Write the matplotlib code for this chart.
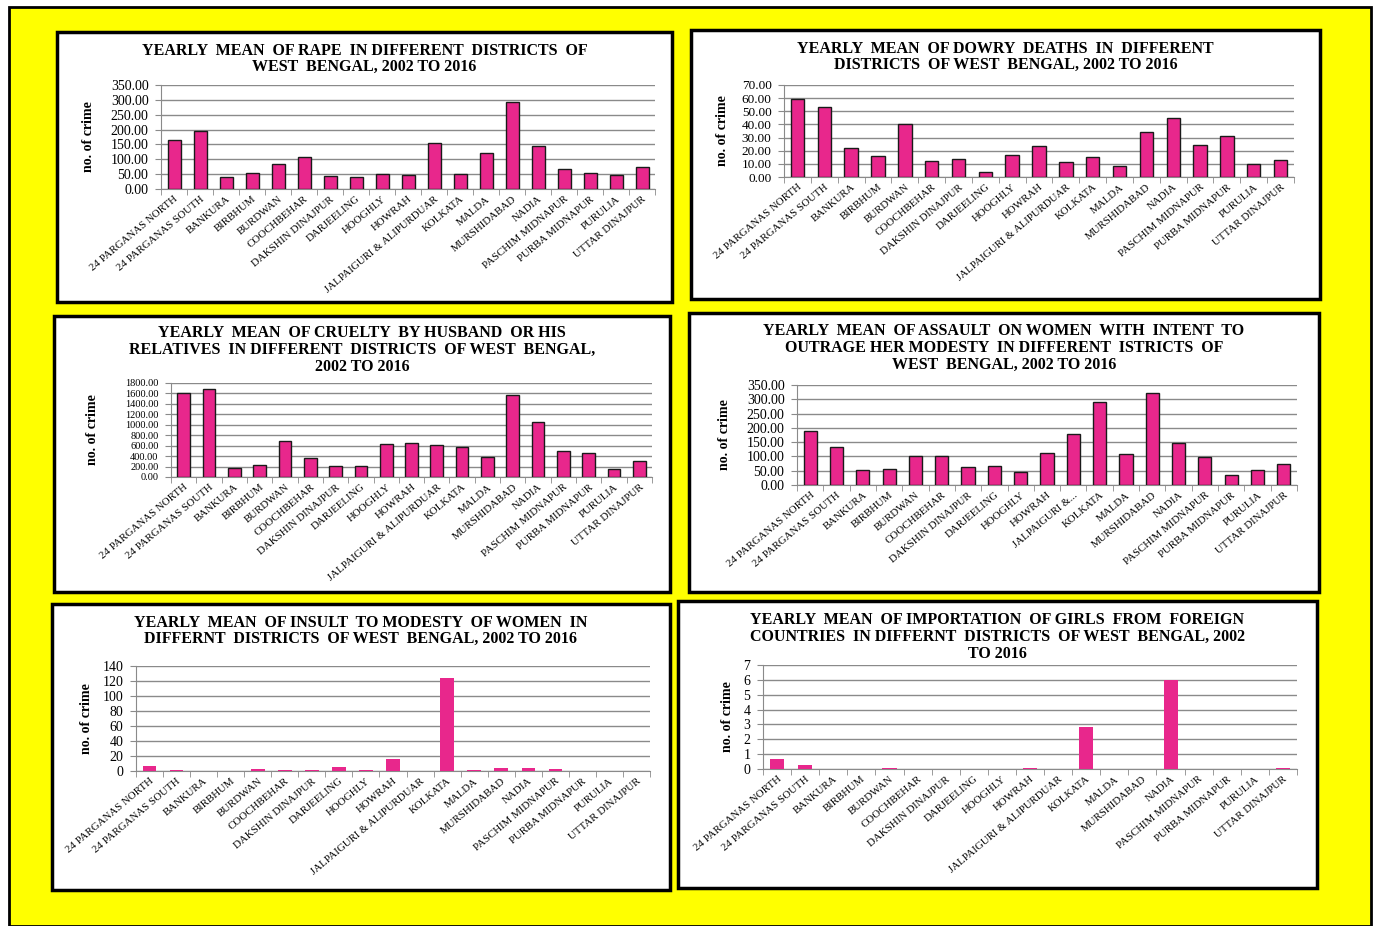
import numpy as np
import matplotlib.pyplot as plt
from matplotlib.patches import Rectangle

# Yearly mean of crimes against women, West Bengal districts, 2002-2016
districts = ['24 PARGANAS NORTH', '24 PARGANAS SOUTH', 'BANKURA', 'BIRBHUM', 'BURDWAN',
             'COOCHBEHAR', 'DAKSHIN DINAJPUR', 'DARJEELING', 'HOOGHLY', 'HOWRAH',
             'JALPAIGURI & ALIPURDUAR', 'KOLKATA', 'MALDA', 'MURSHIDABAD', 'NADIA',
             'PASCHIM MIDNAPUR', 'PURBA MIDNAPUR', 'PURULIA', 'UTTAR DINAJPUR']
districts_short = districts[:10] + ['JALPAIGURI &...'] + districts[11:]

rape = [164, 196, 41, 54, 85, 108, 45, 41, 50, 48, 154, 50, 121, 293, 145, 67, 54, 46, 75]
dowry = [59.0, 53.3, 22.0, 15.7, 40.7, 12.4, 13.9, 4.0, 16.7, 23.5, 11.4, 14.9, 8.1, 33.9,
         44.7, 24.3, 31.1, 9.9, 12.9]
cruelty = [1602, 1679, 166, 223, 683, 357, 204, 204, 626, 657, 613, 568, 389, 1577, 1053,
           491, 460, 147, 313]
assault = [190, 132, 54, 56, 102, 100, 63, 66, 47, 112, 177, 291, 109, 323, 146, 99, 34, 54, 75]
insult = [6.2, 1.3, 0.5, 0.5, 2.7, 1.5, 1.5, 5.3, 1.5, 16.4, 0.5, 124.4, 1.3, 3.5, 3.5, 2.7,
          0.5, 0.0, 0.5]
importation = [0.65, 0.25, 0, 0, 0.05, 0, 0, 0, 0, 0.05, 0, 2.82, 0, 0, 6.0, 0, 0, 0, 0.05]

W, H = 1375, 926
PINK = '#E8278C'
SERIF = 'Liberation Serif'


def fig_rect(x0, y0, x1, y1):
    # pixel box (top-left origin) -> figure fraction
    return [x0 / W, 1 - y1 / H, (x1 - x0) / W, (y1 - y0) / H]


fig = plt.figure(figsize=(W / 100, H / 100), dpi=100)
fig.patch.set_facecolor('white')

# yellow poster background
fig.add_artist(Rectangle((9 / W, 0), (1371 - 9) / W, 1 - 7 / H, transform=fig.transFigure,
                         facecolor='#FFFF00', edgecolor='black', lw=2, zorder=-5))

panels = [
    # values, labels, title, box, axes, ymax, step, fmt, edge, title_y, ylabel_x, ytick size
    (rape, districts, 'YEARLY  MEAN  OF RAPE  IN DIFFERENT  DISTRICTS  OF\nWEST  BENGAL, 2002 TO 2016',
     (57, 32, 672, 302), (161, 85, 655, 189), 350, 50, '%.2f', True, 59, 89, 10),
    (dowry, districts, 'YEARLY  MEAN  OF DOWRY  DEATHS  IN  DIFFERENT\nDISTRICTS  OF WEST  BENGAL, 2002 TO 2016',
     (691, 30, 1320, 299), (784, 85, 1294, 177), 70, 10, '%.2f', True, 57, 722, 9.5),
    (cruelty, districts, 'YEARLY  MEAN  OF CRUELTY  BY HUSBAND  OR HIS\nRELATIVES  IN DIFFERENT  DISTRICTS  OF WEST  BENGAL,\n2002 TO 2016',
     (54, 316, 670, 592), (171, 383, 652, 477), 1800, 200, '%.2f', True, 350, 92, 7.5),
    (assault, districts_short, 'YEARLY  MEAN  OF ASSAULT  ON WOMEN  WITH  INTENT  TO\nOUTRAGE HER MODESTY  IN DIFFERENT  ISTRICTS  OF\nWEST  BENGAL, 2002 TO 2016',
     (689, 313, 1319, 592), (797, 385, 1297, 485), 350, 50, '%.2f', True, 348, 725, 10),
    (insult, districts, 'YEARLY  MEAN  OF INSULT  TO MODESTY  OF WOMEN  IN\nDIFFERNT  DISTRICTS  OF WEST  BENGAL, 2002 TO 2016',
     (52, 604, 670, 890), (136, 666, 650, 771), 140, 20, '%d', False, 631, 86, 10),
    (importation, districts, 'YEARLY  MEAN  OF IMPORTATION  OF GIRLS  FROM  FOREIGN\nCOUNTRIES  IN DIFFERNT  DISTRICTS  OF WEST  BENGAL, 2002\nTO 2016',
     (678, 601, 1317, 888), (763, 665, 1297, 769), 7, 1, '%d', False, 637, 728, 10),
]

for vals, labels, title, box, axbox, ymax, step, fmt, edged, title_y, ylab_x, ysize in panels:
    bx0, by0, bx1, by1 = box
    fig.add_artist(Rectangle((bx0 / W, 1 - by1 / H), (bx1 - bx0) / W, (by1 - by0) / H,
                             transform=fig.transFigure, facecolor='white',
                             edgecolor='black', lw=2.5, zorder=-4))

    ax = fig.add_axes(fig_rect(*axbox))
    ax.set_facecolor('none')
    x = np.arange(len(vals))
    if edged:
        ax.bar(x, vals, width=0.5, color=PINK, edgecolor='#1a1a1a', linewidth=1, zorder=3)
    else:
        ax.bar(x, vals, width=0.5, color=PINK, linewidth=0, zorder=3)

    ax.set_xlim(-0.5, len(vals) - 0.5)
    ax.set_ylim(0, ymax)
    ax.set_yticks(np.arange(0, ymax + step / 2, step))
    ax.yaxis.set_major_formatter(plt.FormatStrFormatter(fmt))
    ax.grid(axis='y', color='#8a8a8a', linewidth=1, zorder=0)

    # category labels at bar centres, tick marks between categories
    ax.set_xticks(x)
    ax.set_xticklabels(labels, rotation=40, ha='right', rotation_mode='anchor',
                       fontsize=7.8, family=SERIF)
    ax.tick_params(axis='x', length=0, pad=4)
    ax.set_xticks(np.arange(-0.5, len(vals)), minor=True)
    ax.tick_params(axis='x', which='minor', length=4, color='#8a8a8a')
    ax.tick_params(axis='y', length=4, color='#8a8a8a', labelsize=ysize, pad=5)
    for lab in ax.get_yticklabels():
        lab.set_family(SERIF)

    for s in ['top', 'right']:
        ax.spines[s].set_visible(False)
    for s in ['left', 'bottom']:
        ax.spines[s].set_color('#8a8a8a')

    cx = (bx0 + bx1) / 2
    fig.text(cx / W, 1 - title_y / H, title, ha='center', va='center', fontsize=11.5,
             fontweight='bold', family=SERIF, linespacing=1.05)
    fig.text(ylab_x / W, 1 - (axbox[1] + axbox[3]) / 2 / H, 'no. of crime', rotation=90,
             ha='center', va='center', fontsize=10, fontweight='bold', family=SERIF)

fig.savefig('out.png', dpi=100)
